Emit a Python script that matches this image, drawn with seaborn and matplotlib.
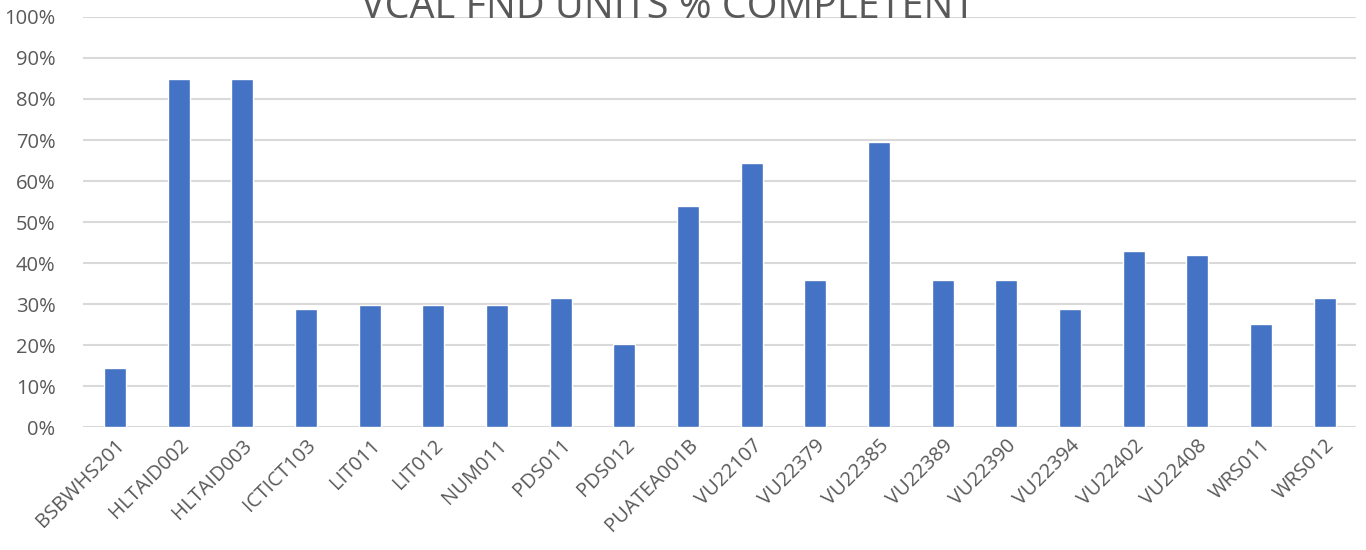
import pandas as pd
import seaborn as sns
import matplotlib.pyplot as plt
from matplotlib.ticker import PercentFormatter

units = ['BSBWHS201', 'HLTAID002', 'HLTAID003', 'ICTICT103', 'LIT011', 'LIT012',
         'NUM011', 'PDS011', 'PDS012', 'PUATEA001B', 'VU22107', 'VU22379',
         'VU22385', 'VU22389', 'VU22390', 'VU22394', 'VU22402', 'VU22408',
         'WRS011', 'WRS012']
competent = [14.4, 84.8, 84.8, 28.8, 29.7, 29.7, 29.7, 31.5, 20.2, 54.0,
             64.5, 35.9, 69.5, 35.9, 35.9, 28.8, 43.0, 41.9, 25.1, 31.5]

df = pd.DataFrame({'unit': units, 'pct': competent})

sns.set_style('white')
plt.rcParams['font.family'] = ['Open Sans', 'DejaVu Sans']

fig = plt.figure(figsize=(13.66, 5.5), dpi=100)
ax = fig.add_axes([0.061, 0.2236, 0.932, 0.7455])

sns.barplot(data=df, x='unit', y='pct', color='#4472c4', width=0.345,
            saturation=1, ax=ax, zorder=3)

ax.set_ylim(0, 100)
ax.set_xlim(-0.5, len(units) - 0.5)
ax.set_yticks(range(0, 101, 10))
ax.yaxis.set_major_formatter(PercentFormatter(decimals=0))
ax.grid(axis='y', color='#d9d9d9', linewidth=1.5, zorder=0)
ax.set_axisbelow(True)
for s in ax.spines.values():
    s.set_visible(False)

ax.set_xlabel('')
ax.set_ylabel('')
ax.tick_params(axis='both', length=0, labelsize=14.5, labelcolor='#595959')
ax.tick_params(axis='y', pad=20)
ax.tick_params(axis='x', pad=6)
plt.setp(ax.get_xticklabels(), rotation=45, ha='right', rotation_mode='anchor')

fig.text(0.489, 0.967, 'VCAL FND UNITS % COMPLETENT', ha='center', va='baseline',
         fontsize=28.5, color='#595959')

fig.savefig('out.png', dpi=100)
